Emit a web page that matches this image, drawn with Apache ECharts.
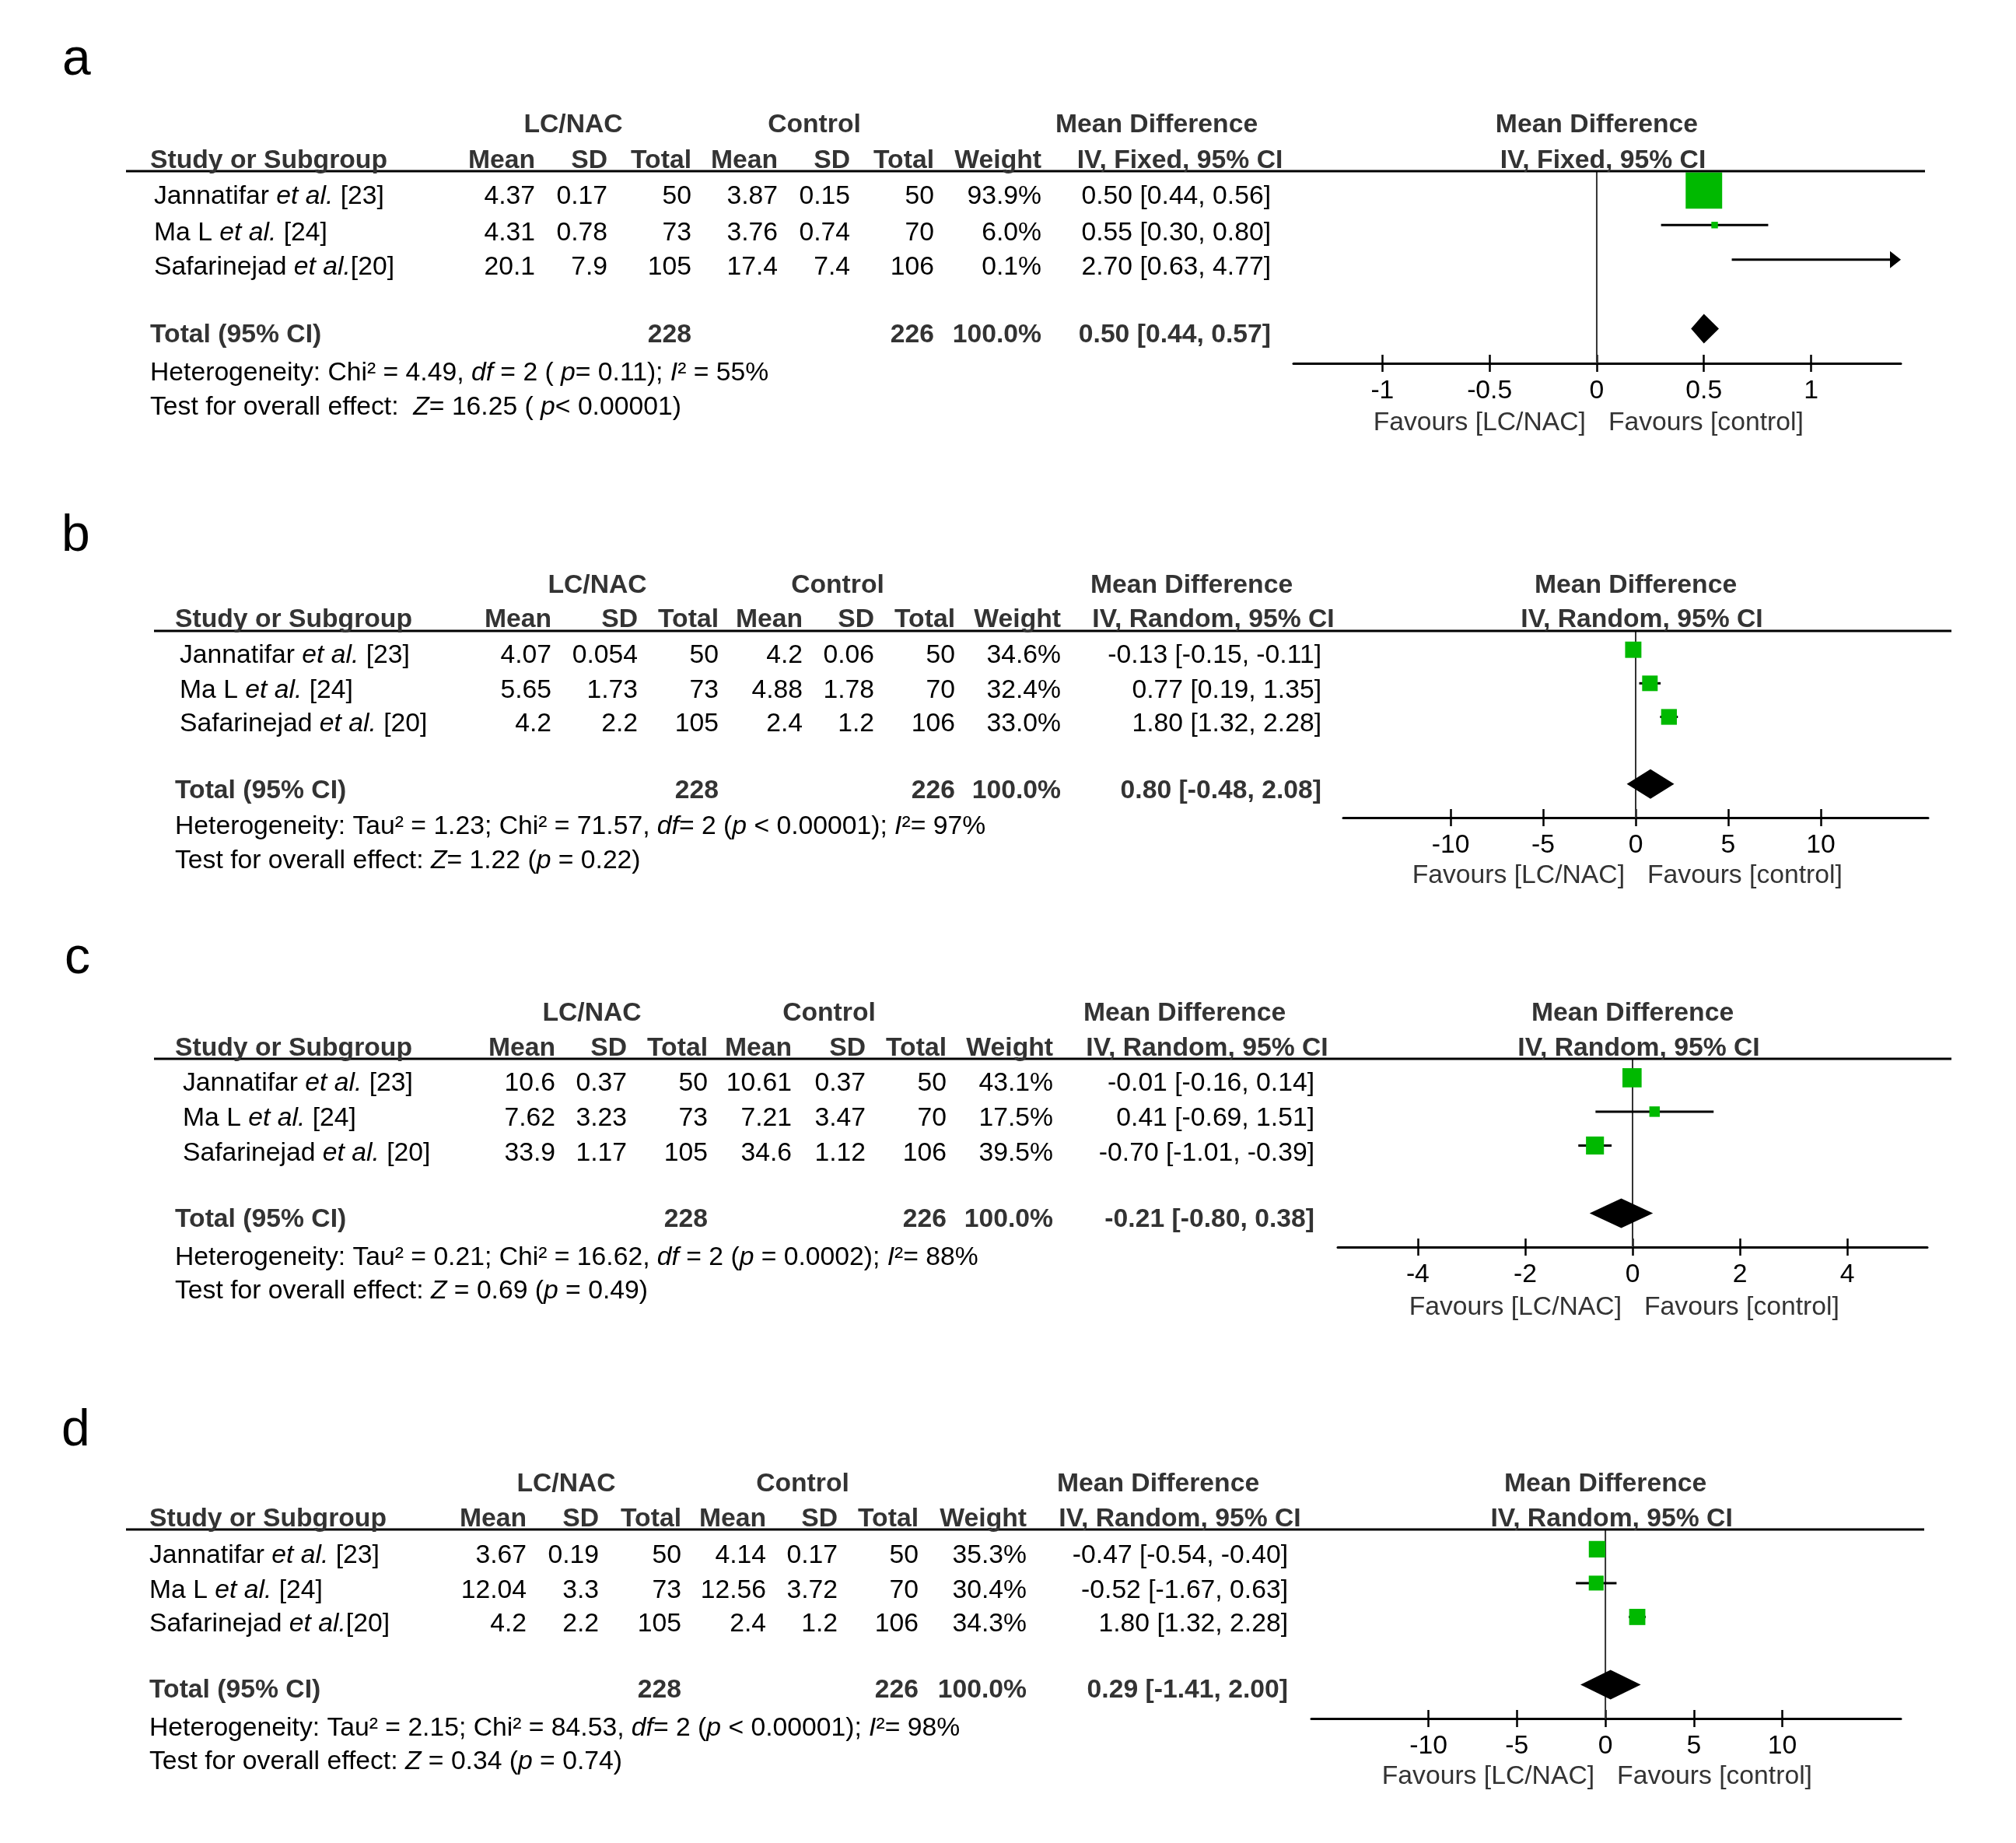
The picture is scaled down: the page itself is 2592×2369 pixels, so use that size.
<!DOCTYPE html>
<html>
<head>
<meta charset="utf-8">
<script src="https://cdn.jsdelivr.net/npm/echarts@6/dist/echarts.min.js"></script>
<style>
html,body{margin:0;padding:0;background:#fff;}
#chart{width:2592px;height:2369px;}
</style>
</head>
<body>
<div id="chart"></div>
<script>
// ---------------- DATA ----------------
const panelLetters = ['a', 'b', 'c', 'd'];
const studies = ['Jannatifar', 'Ma L', 'Safarinejad'];
const refs = ['[23]', '[24]', '[20]'];
const colHeaders = ['Mean', 'SD', 'Total', 'Mean', 'SD', 'Total', 'Weight'];
const totalN = [228, 226];
const favourLabels = ['Favours [LC/NAC]', 'Favours [control]'];

// panel a
const aLcMean = [4.37, 4.31, 20.1];
const aLcSD = [0.17, 0.78, 7.9];
const aLcN = [50, 73, 105];
const aCtMean = [3.87, 3.76, 17.4];
const aCtSD = [0.15, 0.74, 7.4];
const aCtN = [50, 70, 106];
const aWeight = [93.9, 6.0, 0.1];
const aMD = [0.50, 0.55, 2.70];
const aLo = [0.44, 0.30, 0.63];
const aHi = [0.56, 0.80, 4.77];
const aTotal = [0.50, 0.44, 0.57];
const aTicks = [-1, -0.5, 0, 0.5, 1];
const aMethod = 'IV, Fixed, 95% CI';
const aHet = 'Heterogeneity: Chi² = 4.49, {i|df} = 2 ( {i|p}= 0.11); {i|I}² = 55%';
const aTest = 'Test for overall effect:  {i|Z}= 16.25 ( {i|p}< 0.00001)';

// panel b
const bLcMean = [4.07, 5.65, 4.2];
const bLcSD = [0.054, 1.73, 2.2];
const bLcN = [50, 73, 105];
const bCtMean = [4.2, 4.88, 2.4];
const bCtSD = [0.06, 1.78, 1.2];
const bCtN = [50, 70, 106];
const bWeight = [34.6, 32.4, 33.0];
const bMD = [-0.13, 0.77, 1.80];
const bLo = [-0.15, 0.19, 1.32];
const bHi = [-0.11, 1.35, 2.28];
const bTotal = [0.80, -0.48, 2.08];
const bTicks = [-10, -5, 0, 5, 10];
const bMethod = 'IV, Random, 95% CI';
const bHet = 'Heterogeneity: Tau² = 1.23; Chi² = 71.57, {i|df}= 2 ({i|p} < 0.00001); {i|I}²= 97%';
const bTest = 'Test for overall effect: {i|Z}= 1.22 ({i|p} = 0.22)';

// panel c
const cLcMean = [10.6, 7.62, 33.9];
const cLcSD = [0.37, 3.23, 1.17];
const cLcN = [50, 73, 105];
const cCtMean = [10.61, 7.21, 34.6];
const cCtSD = [0.37, 3.47, 1.12];
const cCtN = [50, 70, 106];
const cWeight = [43.1, 17.5, 39.5];
const cMD = [-0.01, 0.41, -0.70];
const cLo = [-0.16, -0.69, -1.01];
const cHi = [0.14, 1.51, -0.39];
const cTotal = [-0.21, -0.80, 0.38];
const cTicks = [-4, -2, 0, 2, 4];
const cMethod = 'IV, Random, 95% CI';
const cHet = 'Heterogeneity: Tau² = 0.21; Chi² = 16.62, {i|df} = 2 ({i|p} = 0.0002); {i|I}²= 88%';
const cTest = 'Test for overall effect: {i|Z} = 0.69 ({i|p} = 0.49)';

// panel d
const dLcMean = [3.67, 12.04, 4.2];
const dLcSD = [0.19, 3.3, 2.2];
const dLcN = [50, 73, 105];
const dCtMean = [4.14, 12.56, 2.4];
const dCtSD = [0.17, 3.72, 1.2];
const dCtN = [50, 70, 106];
const dWeight = [35.3, 30.4, 34.3];
const dMD = [-0.47, -0.52, 1.80];
const dLo = [-0.54, -1.67, 1.32];
const dHi = [-0.40, 0.63, 2.28];
const dTotal = [0.29, -1.41, 2.00];
const dTicks = [-10, -5, 0, 5, 10];
const dMethod = 'IV, Random, 95% CI';
const dHet = 'Heterogeneity: Tau² = 2.15; Chi² = 84.53, {i|df}= 2 ({i|p} < 0.00001); {i|I}²= 98%';
const dTest = 'Test for overall effect: {i|Z} = 0.34 ({i|p} = 0.74)';

// ---------------- LAYOUT ----------------
const panels = [
  {lcM:aLcMean, lcS:aLcSD, lcN:aLcN, ctM:aCtMean, ctS:aCtSD, ctN:aCtN, w:aWeight, md:aMD, lo:aLo, hi:aHi, tot:aTotal, ticks:aTicks, method:aMethod, het:aHet, test:aTest},
  {lcM:bLcMean, lcS:bLcSD, lcN:bLcN, ctM:bCtMean, ctS:bCtSD, ctN:bCtN, w:bWeight, md:bMD, lo:bLo, hi:bHi, tot:bTotal, ticks:bTicks, method:bMethod, het:bHet, test:bTest},
  {lcM:cLcMean, lcS:cLcSD, lcN:cLcN, ctM:cCtMean, ctS:cCtSD, ctN:cCtN, w:cWeight, md:cMD, lo:cLo, hi:cHi, tot:cTotal, ticks:cTicks, method:cMethod, het:cHet, test:cTest},
  {lcM:dLcMean, lcS:dLcSD, lcN:dLcN, ctM:dCtMean, ctS:dCtSD, ctN:dCtN, w:dWeight, md:dMD, lo:dLo, hi:dHi, tot:dTotal, ticks:dTicks, method:dMethod, het:dHet, test:dTest}
];

const layout = [
  { lab:[80,78], h1:161, h2:207, line:[162,2475,220], sx:193, nx:198, rows:[253,300,344], ty:431, hy:480, ey:524,
    cols:[688,781,889,1000,1093,1201,1339,1634], lcC:737, ctC:1047, mdC:1487, ivC:1517,
    grid:[1663,220,781,247], xr:[-1.415,1.419], favY:544, refSep:[' ', ' ', ''] },
  { lab:[79,690], h1:753, h2:797, line:[198,2509,811], sx:225, nx:231, rows:[843,888,931], ty:1017, hy:1063, ey:1107,
    cols:[709,820,924,1032,1124,1228,1364,1699], lcC:768, ctC:1077, mdC:1532, ivC:1560,
    grid:[1727,811,752,240], xr:[-15.8,15.8], favY:1126, refSep:[' ', ' ', ' '] },
  { lab:[83,1233], h1:1303, h2:1348, line:[198,2509,1361], sx:225, nx:235, rows:[1393,1438,1483], ty:1568, hy:1617, ey:1660,
    cols:[714,806,910,1018,1113,1217,1354,1690], lcC:761, ctC:1066, mdC:1523, ivC:1552,
    grid:[1720,1361,758,242], xr:[-5.49,5.49], favY:1681, refSep:[' ', ' ', ' '] },
  { lab:[79,1840], h1:1908, h2:1953, line:[162,2474,1966], sx:192, nx:192, rows:[2000,2045,2088], ty:2173, hy:2222, ey:2265,
    cols:[677,770,876,985,1077,1181,1320,1656], lcC:728, ctC:1032, mdC:1489, ivC:1517,
    grid:[1686,1967,758,242], xr:[-16.62,16.7], favY:2284, refSep:[' ', ' ', ''] }
];

const FONT = "'Liberation Sans', Arial, Helvetica, sans-serif";
const FS = 33.7;
const HEAD = '#333333';
const BODY = '#000000';
const GREEN = '#00b900';
const Y_MIN = 0.44, Y_MAX = 6.0, TOTAL_ROW = 5;

const rich = {
  n: {fontSize: FS, fontFamily: FONT, fill: BODY},
  i: {fontSize: FS, fontFamily: FONT, fill: BODY, fontStyle: 'italic'}
};

function txt(x, y, text, o) {
  return {
    type: 'text', x: x, y: y, silent: true, z: 10,
    style: Object.assign({text: text, fill: BODY, fontSize: FS, fontFamily: FONT,
      align: 'left', verticalAlign: 'middle'}, o || {})
  };
}
const fmt2 = v => v.toFixed(2);
const ciStr = (m, l, h) => fmt2(m) + ' [' + fmt2(l) + ', ' + fmt2(h) + ']';

const graphic = [];
const grids = [], xAxes = [], yAxes = [], series = [];

panels.forEach((P, p) => {
  const L = layout[p];
  const bold = {fontWeight: 'bold', fill: HEAD};
  // panel letter
  graphic.push(txt(L.lab[0], L.lab[1], panelLetters[p], {fontSize: 66}));
  // header row 1
  graphic.push(txt(L.lcC, L.h1, 'LC/NAC', Object.assign({align: 'center'}, bold)));
  graphic.push(txt(L.ctC, L.h1, 'Control', Object.assign({align: 'center'}, bold)));
  graphic.push(txt(L.mdC, L.h1, 'Mean Difference', Object.assign({align: 'center'}, bold)));
  // header row 2
  graphic.push(txt(L.sx, L.h2, 'Study or Subgroup', bold));
  colHeaders.forEach((h, k) => graphic.push(txt(L.cols[k], L.h2, h, Object.assign({align: 'right'}, bold))));
  graphic.push(txt(L.ivC, L.h2, P.method, Object.assign({align: 'center'}, bold)));
  // header line
  graphic.push({type: 'line', silent: true, z: 9,
    shape: {x1: L.line[0], y1: L.line[2], x2: L.line[1], y2: L.line[2]},
    style: {stroke: '#000', lineWidth: 3}});
  // study rows
  studies.forEach((s, k) => {
    const y = L.rows[k];
    graphic.push(txt(L.nx, y, '{n|' + s + ' }{i|et al.}{n|' + L.refSep[k] + refs[k] + '}', {rich: rich}));
    const vals = [P.lcM[k], P.lcS[k], P.lcN[k], P.ctM[k], P.ctS[k], P.ctN[k],
      P.w[k].toFixed(1) + '%', ciStr(P.md[k], P.lo[k], P.hi[k])];
    vals.forEach((v, c) => graphic.push(txt(L.cols[c], y, String(v), {align: 'right'})));
  });
  // total row
  graphic.push(txt(L.sx, L.ty, 'Total (95% CI)', bold));
  graphic.push(txt(L.cols[2], L.ty, String(totalN[0]), Object.assign({align: 'right'}, bold)));
  graphic.push(txt(L.cols[5], L.ty, String(totalN[1]), Object.assign({align: 'right'}, bold)));
  graphic.push(txt(L.cols[6], L.ty, '100.0%', Object.assign({align: 'right'}, bold)));
  graphic.push(txt(L.cols[7], L.ty, ciStr(P.tot[0], P.tot[1], P.tot[2]), Object.assign({align: 'right'}, bold)));
  // heterogeneity & test
  graphic.push(txt(L.sx, L.hy, P.het, {rich: rich}));
  graphic.push(txt(L.sx, L.ey, P.test, {rich: rich}));

  // forest plot
  const [gl, gt, gw, gh] = L.grid;
  const zeroX = gl + gw * (0 - L.xr[0]) / (L.xr[1] - L.xr[0]);
  graphic.push(txt(zeroX, L.h1, 'Mean Difference', Object.assign({align: 'center'}, bold)));
  graphic.push(txt(zeroX + 8, L.h2, P.method, Object.assign({align: 'center'}, bold)));
  graphic.push(txt(zeroX - 14, L.favY, favourLabels[0], {align: 'right', fill: HEAD}));
  graphic.push(txt(zeroX + 15, L.favY, favourLabels[1], {align: 'left', fill: HEAD}));

  grids.push({left: gl, top: gt, width: gw, height: gh, containLabel: false});
  const baseX = {
    type: 'value', gridIndex: p, position: 'bottom', min: L.xr[0], max: L.xr[1],
    splitLine: {show: false}
  };
  xAxes.push(Object.assign({}, baseX, {
    axisLine: {show: true, onZero: false, lineStyle: {color: '#000', width: 3}},
    axisTick: {show: true, inside: false, length: 11, customValues: P.ticks, lineStyle: {color: '#000', width: 2.5}},
    axisLabel: {show: true, customValues: P.ticks, fontSize: FS, fontFamily: FONT, color: '#000', margin: 19}
  }));
  xAxes.push(Object.assign({}, baseX, {
    axisLine: {show: false},
    axisTick: {show: true, inside: true, length: 11, customValues: P.ticks, lineStyle: {color: '#000', width: 2.5}},
    axisLabel: {show: false}
  }));
  yAxes.push({type: 'value', gridIndex: p, min: Y_MIN, max: Y_MAX, inverse: true, show: false});

  const xi = 2 * p, yi = p;
  // zero line
  series.push({
    type: 'line', xAxisIndex: xi, yAxisIndex: yi, silent: true, z: 1,
    data: [[0, Y_MIN], [0, Y_MAX]], symbol: 'none',
    lineStyle: {color: '#333', width: 2}
  });
  // confidence intervals
  series.push({
    type: 'custom', xAxisIndex: xi, yAxisIndex: yi, silent: true, z: 2,
    data: P.md.map((m, k) => [P.lo[k], P.hi[k], k + 1]),
    encode: {x: [0, 1], y: 2},
    renderItem: function (params, api) {
      const cs = params.coordSys;
      const a = api.coord([api.value(0), api.value(2)]);
      const b = api.coord([api.value(1), api.value(2)]);
      const xmin = cs.x, xmax = cs.x + cs.width;
      const children = [];
      let x1 = a[0], x2 = b[0];
      const y = a[1];
      let arrowR = false, arrowL = false;
      if (x2 > xmax) { x2 = xmax; arrowR = true; }
      if (x1 < xmin) { x1 = xmin; arrowL = true; }
      if (x1 > xmax || x2 < xmin) return null;
      children.push({type: 'line', shape: {x1: x1, y1: y, x2: arrowR ? x2 - 8 : x2, y2: y},
        style: {stroke: '#000', lineWidth: 3}});
      if (arrowR) children.push({type: 'polygon',
        shape: {points: [[xmax, y], [xmax - 14, y - 11], [xmax - 14, y + 11]]}, style: {fill: '#000'}});
      if (arrowL) children.push({type: 'polygon',
        shape: {points: [[xmin, y], [xmin + 14, y - 11], [xmin + 14, y + 11]]}, style: {fill: '#000'}});
      return {type: 'group', children: children};
    }
  });
  // study squares (size from weight)
  series.push({
    type: 'scatter', xAxisIndex: xi, yAxisIndex: yi, silent: true, z: 3, clip: true,
    data: P.md.map((m, k) => [m, k + 1, P.w[k]]),
    symbol: 'rect',
    symbolSize: v => 5.8 + 0.438 * v[2],
    itemStyle: {color: GREEN, opacity: 1}
  });
  // pooled diamond
  series.push({
    type: 'custom', xAxisIndex: xi, yAxisIndex: yi, silent: true, z: 4,
    data: [[P.tot[1], P.tot[0], P.tot[2], TOTAL_ROW]],
    encode: {x: [0, 1, 2], y: 3},
    renderItem: function (params, api) {
      const l = api.coord([api.value(0), api.value(3)]);
      const m = api.coord([api.value(1), api.value(3)]);
      const h = api.coord([api.value(2), api.value(3)]);
      const hh = 19;
      return {type: 'polygon', shape: {points: [[l[0], l[1]], [m[0], m[1] - hh], [h[0], h[1]], [m[0], m[1] + hh]]},
        style: {fill: '#000'}};
    }
  });
});

const chart = echarts.init(document.getElementById('chart'), null, {renderer: 'canvas'});
chart.setOption({
  animation: false,
  backgroundColor: '#ffffff',
  grid: grids,
  xAxis: xAxes,
  yAxis: yAxes,
  series: series,
  graphic: graphic
});
</script>
</body>
</html>
